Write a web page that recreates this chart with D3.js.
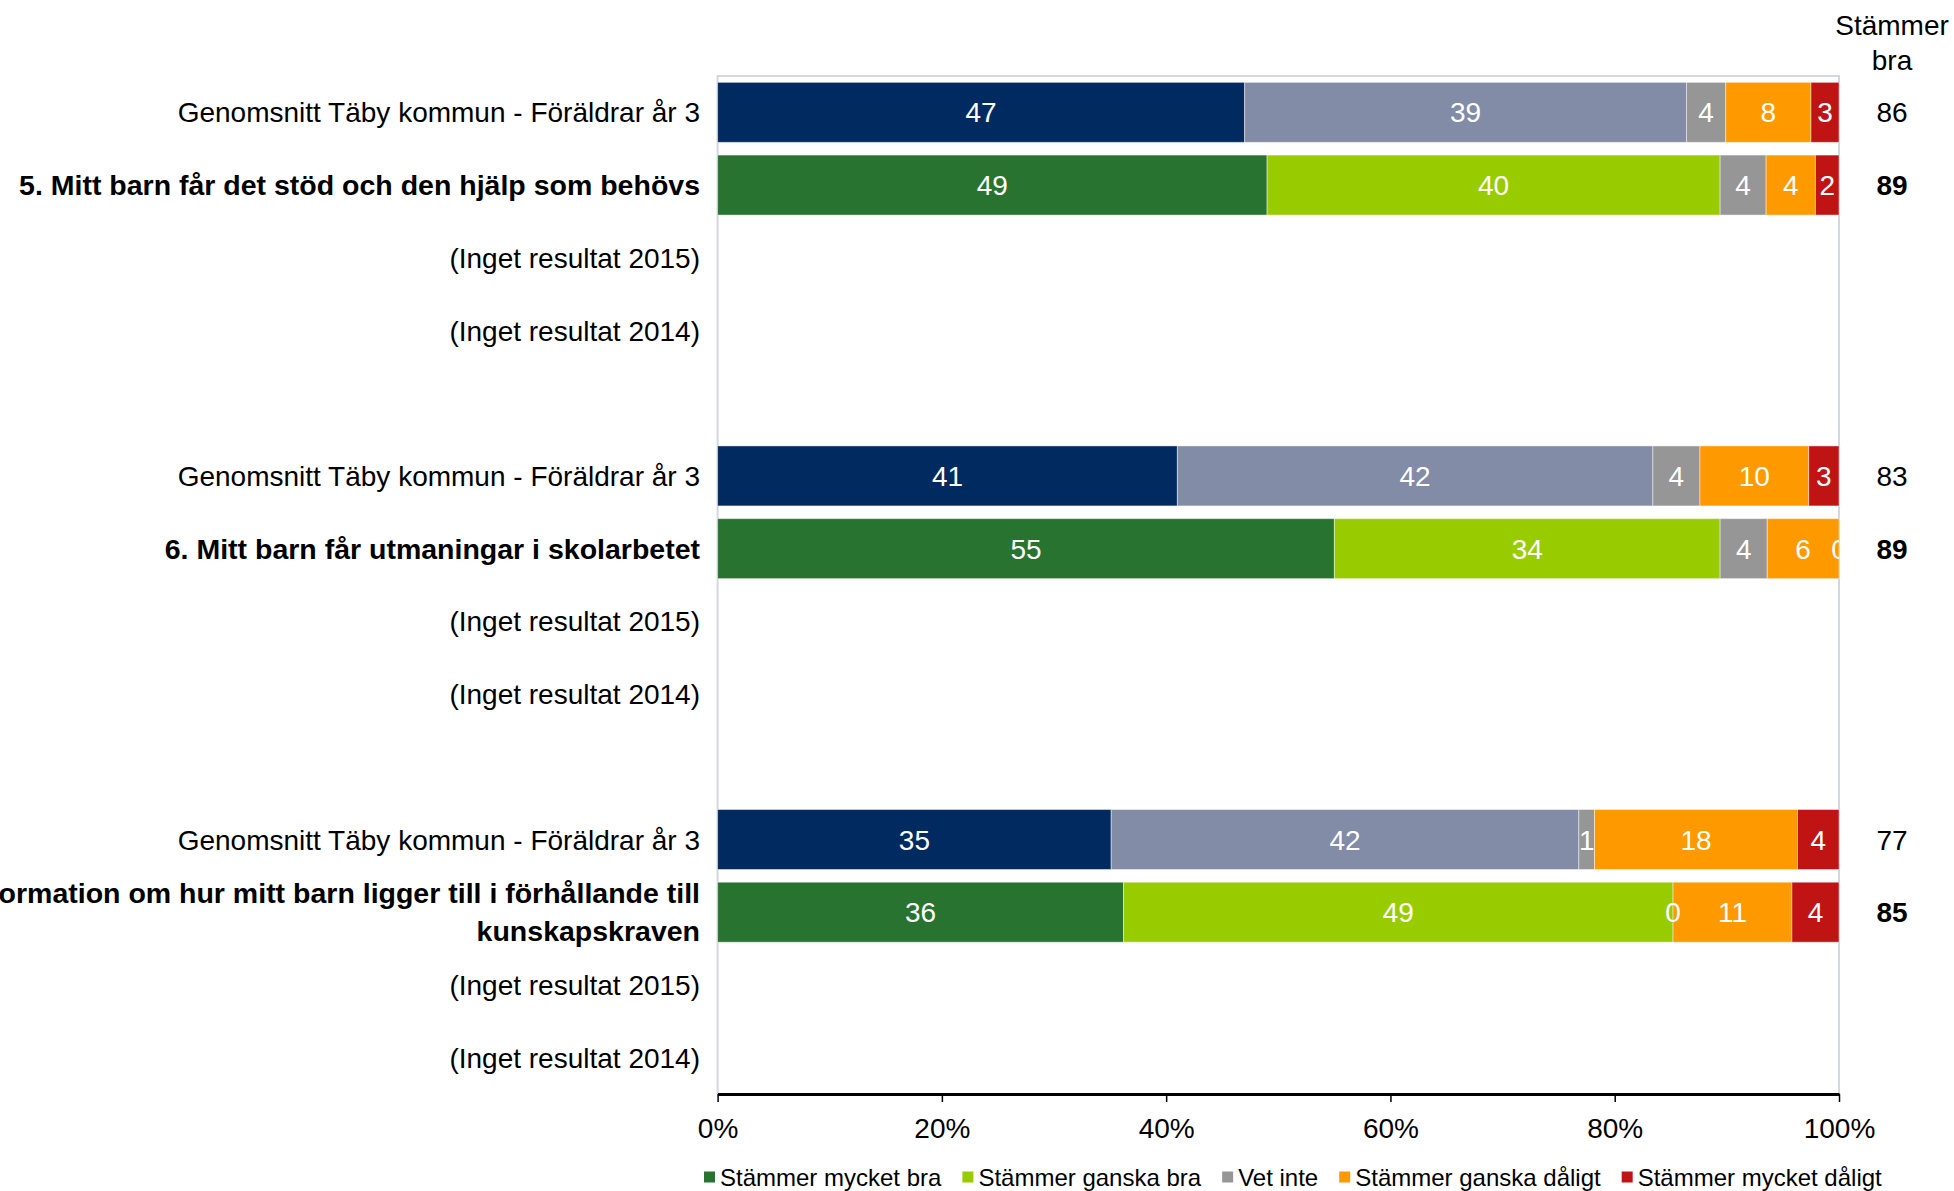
<!DOCTYPE html>
<html>
<head>
<meta charset="utf-8">
<script src="https://cdn.jsdelivr.net/npm/d3@7"></script>
<style>
  body { margin: 0; background: #fff; }
  svg text { font-family: "Liberation Sans", Arial, sans-serif; }
</style>
</head>
<body>
<div id="chart"></div>
<script>
// row slots (top to bottom), blank slots separate the question groups
const rowLabels = [
  'Genomsnitt Täby kommun - Föräldrar år 3',
  '5. Mitt barn får det stöd och den hjälp som behövs',
  '(Inget resultat 2015)',
  '(Inget resultat 2014)',
  '',
  'Genomsnitt Täby kommun - Föräldrar år 3',
  '6. Mitt barn får utmaningar i skolarbetet',
  '(Inget resultat 2015)',
  '(Inget resultat 2014)',
  '',
  'Genomsnitt Täby kommun - Föräldrar år 3',
  '7. Jag får information om hur mitt barn ligger till i förhållande till|kunskapskraven',
  '(Inget resultat 2015)',
  '(Inget resultat 2014)'
];
const boldRows = [1, 6, 11];

// bars: slot index and kind (avg uses blue tones, question uses greens)
const barRows = [0, 1, 5, 6, 10, 11];
const barKind = ['avg', 'q', 'avg', 'q', 'avg', 'q'];

const seriesNames = ['Stämmer mycket bra', 'Stämmer ganska bra', 'Vet inte', 'Stämmer ganska dåligt', 'Stämmer mycket dåligt'];
const mycketBra   = [47.0, 49.0, 41.0, 55.0, 35.1, 36.2];
const ganskaBra   = [39.4, 40.4, 42.4, 34.4, 41.7, 49.0];
const vetInte     = [3.5, 4.1, 4.2, 4.2, 1.4, 0];
const ganskaDaligt = [7.6, 4.4, 9.7, 6.4, 18.1, 10.6];
const mycketDaligt = [2.5, 2.1, 2.7, 0, 3.7, 4.2];
const stammerBra  = [86, 89, 83, 89, 77, 85];

const xTicks = [0, 0.2, 0.4, 0.6, 0.8, 1];

const colors = {
  avg: ['#002A60', '#828CA6', '#969696', '#FF9900', '#C01414'],
  q:   ['#27732F', '#99CC00', '#969696', '#FF9900', '#C01414']
};
const legendColors = colors.q;

const W = 1954, H = 1191;
const plotLeft = 717.6, plotRight = 1839, plotTop = 76, plotBottom = 1094;

const svg = d3.select('#chart').append('svg')
  .attr('width', W).attr('height', H);

const x = d3.scaleLinear().domain([0, 100]).range([plotLeft, plotRight]);
const y = d3.scaleBand().domain(d3.range(rowLabels.length))
  .range([plotTop, plotBottom]).paddingInner(0.175).paddingOuter(0.0875);

// plot frame
svg.append('rect')
  .attr('x', plotLeft).attr('y', plotTop)
  .attr('width', plotRight - plotLeft).attr('height', plotBottom - plotTop)
  .attr('fill', 'none').attr('stroke', '#D3D7E0').attr('stroke-width', 2);

svg.append('clipPath').attr('id', 'plotClip')
  .append('rect').attr('x', plotLeft).attr('y', plotTop)
  .attr('width', plotRight - plotLeft).attr('height', plotBottom - plotTop);

const series = [mycketBra, ganskaBra, vetInte, ganskaDaligt, mycketDaligt];
const bars = barRows.map((slot, i) => {
  let acc = 0;
  return series.map((s, k) => {
    const seg = { slot, kind: barKind[i], k, v: s[i], x0: acc, x1: acc + s[i] };
    acc += s[i];
    return seg;
  });
}).flat();

const barG = svg.append('g');
barG.selectAll('rect')
  .data(bars)
  .enter()
  .append('rect')
  .attr('x', d => x(d.x0))
  .attr('y', d => y(d.slot))
  .attr('width', d => x(d.x1) - x(d.x0))
  .attr('height', y.bandwidth())
  .attr('fill', d => colors[d.kind][d.k])
  .attr('stroke', 'rgba(255,255,255,0.45)')
  .attr('stroke-width', 1);

// value labels, clipped to the plot so a zero at the edge shows half
const labG = svg.append('g').attr('clip-path', 'url(#plotClip)');
labG.selectAll('text')
  .data(bars)
  .enter()
  .append('text')
  .attr('x', d => x((d.x0 + d.x1) / 2))
  .attr('y', d => y(d.slot) + y.bandwidth() / 2)
  .attr('dy', '0.36em')
  .attr('text-anchor', 'middle')
  .attr('fill', '#fff')
  .style('font-size', '28px')
  .text(d => Math.round(d.v));

// category labels
const catG = svg.append('g');
rowLabels.forEach((lab, i) => {
  if (!lab) return;
  const lines = lab.split('|');
  const cy = y(i) + y.bandwidth() / 2;
  const bold = boldRows.includes(i);
  const t = catG.append('text')
    .attr('x', 700)
    .attr('text-anchor', 'end')
    .style('font-size', bold ? '28.5px' : '28px')
    .style('font-weight', bold ? 'bold' : 'normal')
    .attr('fill', '#000');
  lines.forEach((ln, j) => {
    t.append('tspan')
      .attr('x', 700)
      .attr('y', cy + (j - (lines.length - 1) / 2) * 38)
      .attr('dy', '0.36em')
      .text(ln);
  });
});

// "Stämmer bra" column
svg.append('text').attr('x', 1892).attr('y', 25).attr('dy', '0.36em')
  .attr('text-anchor', 'middle').style('font-size', '28px').text('Stämmer');
svg.append('text').attr('x', 1892).attr('y', 60).attr('dy', '0.36em')
  .attr('text-anchor', 'middle').style('font-size', '28px').text('bra');

svg.append('g').selectAll('text')
  .data(stammerBra)
  .enter()
  .append('text')
  .attr('x', 1892)
  .attr('y', (d, i) => y(barRows[i]) + y.bandwidth() / 2)
  .attr('dy', '0.36em')
  .attr('text-anchor', 'middle')
  .style('font-size', '28px')
  .style('font-weight', (d, i) => barKind[i] === 'q' ? 'bold' : 'normal')
  .text(d => d);

// x axis
const xAxis = d3.scaleLinear().domain([0, 1]).range([plotLeft, plotRight]);
const ax = svg.append('g')
  .attr('transform', 'translate(0,' + plotBottom + ')')
  .call(d3.axisBottom(xAxis).tickValues(xTicks).tickFormat(d3.format('.0%'))
    .tickSize(8).tickSizeOuter(0).tickPadding(16));
ax.select('.domain').attr('stroke', '#000').attr('stroke-width', 3);
ax.selectAll('.tick line').attr('stroke', '#000').attr('stroke-width', 1.5);
ax.selectAll('.tick text')
  .attr('fill', '#000')
  .style('font-size', '28px')
  .style('font-family', '"Liberation Sans", Arial, sans-serif');

// legend
const leg = svg.append('g');
let lx = 704;
seriesNames.forEach((name, i) => {
  leg.append('rect')
    .attr('x', lx).attr('y', 1171.5)
    .attr('width', 11).attr('height', 11)
    .attr('fill', legendColors[i]);
  const t = leg.append('text')
    .attr('x', lx + 16).attr('y', 1177).attr('dy', '0.36em')
    .style('font-size', '24px')
    .attr('fill', '#000')
    .text(name);
  lx += 16 + t.node().getComputedTextLength() + 21;
});
</script>
</body>
</html>
